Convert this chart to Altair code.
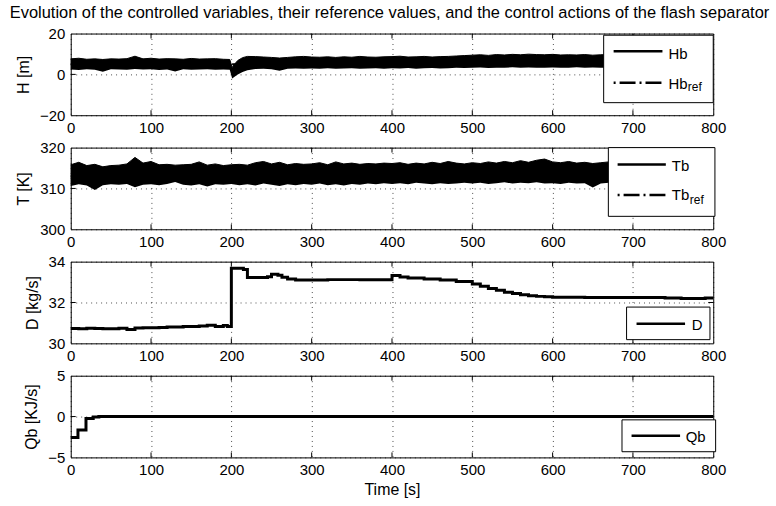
import altair as alt
import pandas as pd

FONT = "Liberation Sans"
TITLE = ("Evolution of the controlled variables, their reference values, "
         "and the control actions of the flash separator")

X_TICKS = [0, 100, 200, 300, 400, 500, 600, 700, 800]

# ---- Hb (level) : envelope of the noisy measured signal ----
H_t = ([0, 10, 20, 30, 40, 50, 60, 70, 80, 90,
        100, 110, 120, 130, 140, 150, 160, 170, 180, 190,
        198, 201, 204, 208, 214,
        220, 230, 240, 250, 260, 270, 280, 290]
       + [300, 310, 320, 330, 340, 350, 360, 370, 380, 390]
       + [400, 410, 420, 430, 440, 450, 460, 470, 480, 490]
       + [500, 510, 520, 530, 540, 550, 560, 570, 580, 590]
       + [600, 610, 620, 630, 640, 650, 660, 670, 680, 690]
       + [700, 710, 720, 730, 740, 750, 760, 770, 780, 790, 800])
H_hi = ([7.6, 7.9, 7.4, 7.6, 7.3, 7.6, 7.5, 7.7, 8.9, 7.6,
         7.9, 7.5, 7.7, 7.6, 7.4, 7.8, 7.5, 7.6, 7.7, 7.4,
         7.3, 3.4, 5.0, 6.8, 8.2,
         8.8, 8.7, 8.5, 8.3, 8.0, 8.3, 8.6, 8.8]
        + [8.5, 8.4, 8.6, 8.3, 8.6, 8.4, 8.8, 8.5, 8.4, 8.6]
        + [8.7, 8.9, 8.5, 8.6, 8.8, 8.5, 8.7, 8.8, 9.0, 9.2]
        + [9.4, 9.6, 9.3, 9.7, 9.5, 9.8, 9.6, 9.9, 9.7, 9.6]
        + [9.8, 9.5, 9.6, 9.5, 9.7, 9.4, 9.6, 9.7, 9.5, 9.6]
        + [9.5, 9.7, 9.6, 9.4, 9.6, 9.7, 9.5, 9.6, 9.8, 9.6, 9.7])
H_lo = ([2.4, 2.2, 2.5, 2.3, 1.3, 2.5, 2.4, 2.3, 2.6, 2.4,
         2.5, 2.2, 2.4, 1.4, 2.5, 2.3, 2.4, 2.5, 2.3, 2.4,
         2.3, -2.0, -1.2, 0.0, 1.2,
         2.0, 2.6, 2.8, 2.5, 1.8, 2.7, 2.9, 2.8]
        + [2.9, 2.7, 3.0, 2.8, 2.9, 3.0, 2.7, 2.9, 3.0, 2.8]
        + [3.0, 2.9, 3.1, 2.8, 3.0, 3.1, 2.9, 3.0, 3.2, 3.1]
        + [3.2, 3.4, 3.1, 3.3, 3.2, 3.5, 3.3, 3.4, 3.2, 3.3]
        + [3.4, 3.2, 3.3, 3.5, 3.3, 3.4, 3.2, 3.3, 3.4, 3.3]
        + [3.3, 3.4, 3.2, 3.3, 3.5, 3.3, 3.4, 3.2, 3.3, 3.4, 3.3])
HB_REF = 5.0

# ---- Tb (temperature) : envelope of the noisy measured signal ----
T_t = list(range(0, 801, 10))
T_hi = ([315.8, 316.4, 315.6, 315.9, 315.3, 315.6, 315.7, 316.0, 317.6, 316.2]
        + [316.6, 315.8, 315.9, 315.7, 315.8, 315.9, 316.5, 315.7, 316.0, 315.6]
        + [315.8, 315.9, 315.7, 316.3, 316.6, 316.0, 316.4, 315.8, 316.1, 315.9]
        + [316.0, 316.3, 315.8, 316.5, 316.0, 316.2, 315.9, 316.1, 316.0, 316.2]
        + [316.1, 316.3, 315.9, 316.2, 316.0, 316.4, 316.1, 316.6, 316.2, 316.0]
        + [316.3, 316.1, 316.5, 316.2, 316.6, 316.3, 316.8, 316.4, 316.9, 317.2]
        + [316.5, 316.3, 316.6, 316.2, 316.4, 316.1, 316.3, 316.5, 316.2, 316.4]
        + [316.3, 316.5, 316.2, 316.4, 316.1, 316.3, 316.5, 316.2, 316.4, 316.3, 316.2])
T_lo = ([310.6, 311.0, 310.7, 309.6, 310.8, 311.0, 310.9, 311.1, 310.3, 310.9]
        + [311.0, 310.8, 311.1, 311.6, 310.9, 310.7, 311.0, 310.5, 311.0, 310.9]
        + [311.1, 310.8, 311.0, 310.7, 311.2, 310.9, 310.6, 311.0, 310.8, 311.1]
        + [310.9, 311.2, 310.8, 311.0, 310.7, 311.1, 310.9, 311.2, 311.0, 311.3]
        + [311.1, 311.3, 311.0, 311.4, 311.2, 311.0, 311.3, 311.1, 311.2, 311.4]
        + [311.2, 311.4, 311.1, 311.3, 311.5, 311.2, 311.4, 311.3, 311.5, 311.2]
        + [311.3, 311.1, 311.4, 311.2, 311.3, 310.2, 311.2, 311.4, 311.1, 311.3]
        + [311.2, 311.4, 311.1, 311.3, 311.2, 311.4, 311.1, 311.3, 311.2, 311.4, 311.3])
TB_REF = 313.0

# ---- D (distillate flow), piecewise constant ----
D_t = [0, 10, 20, 30, 40, 50, 60, 70, 80, 90, 100, 110, 120, 130, 140, 150,
       160, 170, 180, 190, 195, 200, 215, 220, 245, 250, 258, 263, 270, 280,
       300, 320, 340, 360, 380, 400, 410, 420, 440, 460, 480, 500, 510, 520,
       530, 540, 550, 560, 570, 580, 590, 600, 640, 700, 740, 760, 790, 800]
D_v = [30.73, 30.71, 30.74, 30.73, 30.72, 30.71, 30.74, 30.68, 30.75, 30.76,
       30.76, 30.78, 30.80, 30.80, 30.82, 30.83, 30.85, 30.89, 30.82, 30.88,
       30.83, 33.68, 33.62, 33.22, 33.26, 33.38, 33.33, 33.24, 33.15, 33.10,
       33.10, 33.12, 33.12, 33.11, 33.11, 33.32, 33.25, 33.20, 33.15, 33.10,
       33.03, 32.90, 32.80, 32.68, 32.60, 32.50, 32.44, 32.38, 32.33, 32.30,
       32.28, 32.26, 32.24, 32.24, 32.22, 32.20, 32.22, 32.22]

# ---- Qb (heat duty), piecewise constant ----
Q_t = [0, 9, 19, 28, 35, 800]
Q_v = [-2.55, -1.65, -0.25, -0.05, 0.0, 0.0]

W, H = 645, 82
one = pd.DataFrame({"a": [0]})


def xenc(title=""):
    ax = alt.Axis(values=X_TICKS, grid=True, labelFlush=False, title=title)
    return alt.X("t:Q", scale=alt.Scale(domain=[0, 800], nice=False, zero=False), axis=ax)


def yenc(domain, ticks, title):
    return alt.Y("v:Q", scale=alt.Scale(domain=domain, nice=False, zero=False),
                 axis=alt.Axis(values=ticks, grid=True, title=title, labelFlush=False))


def tick_layers(domain, yticks, ytitle, xtitle=""):
    xt = pd.DataFrame({"t": X_TICKS[1:-1]})
    yt = pd.DataFrame({"v": yticks[1:-1]})
    X = xenc(xtitle)
    Y = yenc(domain, yticks, ytitle)
    return [
        alt.Chart(xt).mark_rule(color="black", strokeWidth=1).encode(
            x=X, y=alt.value(0), y2=alt.value(5)),
        alt.Chart(xt).mark_rule(color="black", strokeWidth=1).encode(
            x=X, y=alt.value(H - 5), y2=alt.value(H)),
        alt.Chart(yt).mark_rule(color="black", strokeWidth=1).encode(
            y=Y, x=alt.value(0), x2=alt.value(5)),
        alt.Chart(yt).mark_rule(color="black", strokeWidth=1).encode(
            y=Y, x=alt.value(W - 5), x2=alt.value(W)),
    ]


def lbox(x1, x2, y1, y2):
    return alt.Chart(one).mark_rect(fill="white", stroke="black", strokeWidth=1).encode(
        x=alt.value(x1), x2=alt.value(x2), y=alt.value(y1), y2=alt.value(y2))


def lline(x1, x2, y, dash=False):
    if dash:
        m = alt.Chart(one).mark_rule(color="black", strokeWidth=2.5, strokeDash=[2, 4, 16, 4])
    else:
        m = alt.Chart(one).mark_rule(color="black", strokeWidth=2.5)
    return m.encode(x=alt.value(x1), x2=alt.value(x2), y=alt.value(y))


def ltext(txt, x, y, size=15, align="left"):
    return alt.Chart(one).mark_text(text=txt, align=align, baseline="alphabetic",
                                    font=FONT, fontSize=size, color="black").encode(
        x=alt.value(x), y=alt.value(y))


# Panel 1: Hb
dH = pd.DataFrame({"t": H_t, "v": H_hi, "lo": H_lo})
dHref = pd.DataFrame({"t": [0, 800], "v": [HB_REF, HB_REF]})
domH, tH = [-20, 20], [-20, 0, 20]
p1 = alt.layer(
    alt.Chart(dH).mark_area(color="black", opacity=1, line={"color": "black", "strokeWidth": 1}).encode(
        x=xenc(), y=yenc(domH, tH, "H [m]"), y2="lo:Q"),
    alt.Chart(dHref).mark_line(color="black", strokeWidth=2, strokeDash=[2, 4, 16, 4]).encode(
        x=xenc(), y=yenc(domH, tH, "H [m]")),
    *tick_layers(domH, tH, "H [m]"),
    lbox(535, 645, 1.7, 69.4),
    lline(545, 594, 17.7),
    ltext("Hb", 600, 25.4),
    lline(545, 594, 49.3, dash=True),
    ltext("Hb", 600, 55.4),
    ltext("ref", 619.5, 57.7, 12),
    ltext(TITLE, 320, -15.5, 16.5, align="center"),
).properties(width=W, height=H)

# Panel 2: Tb
dT = pd.DataFrame({"t": T_t, "v": T_hi, "lo": T_lo})
dTref = pd.DataFrame({"t": [0, 800], "v": [TB_REF, TB_REF]})
domT, tT = [300, 320], [300, 310, 320]
p2 = alt.layer(
    alt.Chart(dT).mark_area(color="black", opacity=1, line={"color": "black", "strokeWidth": 1}).encode(
        x=xenc(), y=yenc(domT, tT, "T [K]"), y2="lo:Q"),
    alt.Chart(dTref).mark_line(color="black", strokeWidth=2, strokeDash=[2, 4, 16, 4]).encode(
        x=xenc(), y=yenc(domT, tT, "T [K]")),
    *tick_layers(domT, tT, "T [K]"),
    lbox(539.7, 646.7, 0, 69),
    lline(549, 597.4, 17),
    ltext("Tb", 603.4, 23),
    lline(549, 597.4, 47.7, dash=True),
    ltext("Tb", 603.4, 52.7),
    ltext("ref", 621.5, 56.7, 12),
).properties(width=W, height=H)

# Panel 3: D
dD = pd.DataFrame({"t": D_t, "v": D_v})
domD, tD = [30, 34], [30, 32, 34]
p3 = alt.layer(
    alt.Chart(dD).mark_line(color="black", strokeWidth=3, interpolate="step-after").encode(
        x=xenc(), y=yenc(domD, tD, "D [kg/s]")),
    *tick_layers(domD, tD, "D [kg/s]"),
    lbox(558, 641.7, 45.6, 78.3),
    lline(568, 616.7, 62.3),
    ltext("D", 623.4, 68.3),
).properties(width=W, height=H)

# Panel 4: Qb
dQ = pd.DataFrame({"t": Q_t, "v": Q_v})
domQ, tQ = [-5, 5], [-5, 0, 5]
p4 = alt.layer(
    alt.Chart(dQ).mark_line(color="black", strokeWidth=3, interpolate="step-after").encode(
        x=xenc("Time [s]"), y=yenc(domQ, tQ, "Qb [KJ/s]")),
    *tick_layers(domQ, tQ, "Qb [KJ/s]", "Time [s]"),
    lbox(553.4, 647.4, 44.3, 76.3),
    lline(563, 611.7, 60.3),
    ltext("Qb", 617.4, 66.6),
).properties(width=W, height=H)

chart = alt.vconcat(p1, p2, p3, p4, spacing=32.5, bounds="flush").configure(
    padding={"left": 8, "top": 3.7, "right": 5, "bottom": 5},
    background="white",
).configure_view(
    stroke="black", strokeWidth=1,
).configure_axis(
    labelFont=FONT, labelFontSize=15, labelColor="black",
    titleFont=FONT, titleFontSize=16, titleFontWeight="normal", titleColor="black",
    ticks=False, tickSize=0, domain=False,
    gridColor="black", gridDash=[1, 4], gridOpacity=0.7, gridWidth=1,
).configure_axisY(
    labelPadding=6, titlePadding=8,
).configure_axisX(
    labelPadding=5, titlePadding=4,
)

chart.save("out.html", embed_options={"renderer": "svg", "actions": False})
